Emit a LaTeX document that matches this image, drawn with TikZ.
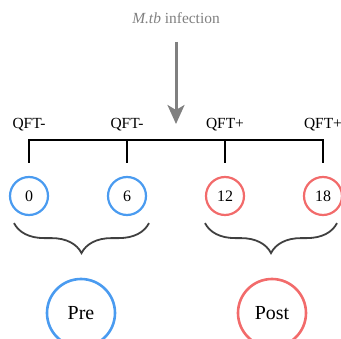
\documentclass[tikz,border=0pt]{standalone}
\usepackage{fontspec}
\setmainfont{Liberation Serif}
\usetikzlibrary{arrows.meta,positioning,decorations.pathreplacing}
\definecolor{preblue}{RGB}{74,155,240}
\definecolor{postred}{RGB}{242,107,107}
\definecolor{infgray}{RGB}{128,128,128}
\definecolor{bracegray}{RGB}{64,64,64}

\begin{document}
\begin{tikzpicture}[x=1bp,y=1bp,
    visit/.style={circle,minimum size=38bp,inner sep=0pt,line width=2.2bp,font=\fontsize{16}{16}\selectfont},
    phase/.style={circle,minimum size=68bp,inner sep=0pt,line width=2.6bp,font=\fontsize{20}{20}\selectfont},
    qft/.style={font=\fontsize{15.5}{15.5}\selectfont},
    bar/.style={line width=2.2bp,black},
    grp/.style={bracegray,line width=1.8bp,decorate,decoration={brace,mirror,amplitude=30bp}}]
  \useasboundingbox (0,0) rectangle (341,339);
  \clip (0,0) rectangle (341,339);
  % ---- infection event
  \node[text=infgray,font=\fontsize{15.5}{15.5}\selectfont] (inf) at (176,321) {\textit{M.tb} infection};
  \coordinate (tip) at (176,215);
  \draw[infgray,line width=3bp,-{Stealth[length=19bp,width=17bp,inset=5bp]}] (176,297) -- (tip);
  % ---- visits
  \node[visit,draw=preblue]  (c0)  at (29,143)  {0};
  \node[visit,draw=preblue]  (c6)  at (127,143) {6};
  \node[visit,draw=postred]  (c12) at (225,143) {12};
  \node[visit,draw=postred]  (c18) at (323,143) {18};
  \foreach \v/\s in {c0/QFT-,c6/QFT-,c12/QFT+,c18/QFT+}
    \node[qft] (q\v) at ([yshift=71bp]\v.center) {\s};
  % ---- timeline bracket
  \draw[bar] ([yshift=13bp]c0.north) -- ++(0,23) -| ([yshift=13bp]c18.north);
  \draw[bar] ([yshift=13bp]c6.north) -- ++(0,23);
  \draw[bar] ([yshift=13bp]c12.north) -- ++(0,23);
  % ---- groups
  \node[phase,draw=preblue]  (pre)  at (81,26)  {Pre};
  \node[phase,draw=postred]  (post) at (272,26) {Post};
  \draw[grp] ([xshift=-15bp,yshift=-7bp]c0.south) -- ([xshift=22bp,yshift=-7bp]c6.south);
  \draw[grp] ([xshift=-20bp,yshift=-7bp]c12.south) -- ([xshift=14bp,yshift=-7bp]c18.south);
\end{tikzpicture}
\end{document}
